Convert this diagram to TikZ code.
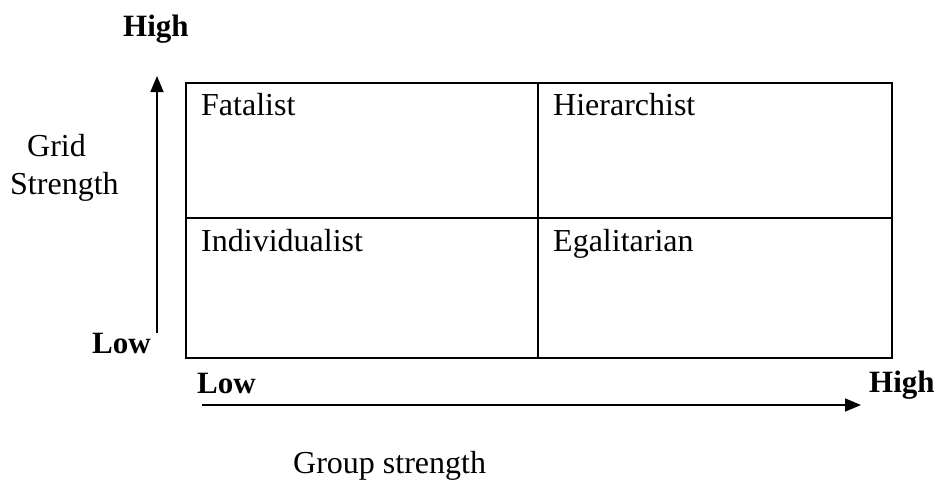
\documentclass[tikz,border=0pt]{standalone}
\usepackage{fontspec}
\setmainfont{Liberation Serif}
\usetikzlibrary{arrows.meta}
\tikzset{
  cell/.style={draw, line width=2pt, anchor=north west, inner sep=0pt, outer sep=0pt},
  txt/.style={anchor=base west, inner sep=0pt, font=\fontsize{32}{38}\selectfont},
  btxt/.style={anchor=base west, inner sep=0pt, font=\fontsize{31}{37}\selectfont\bfseries},
  axis/.style={line width=1.6pt, -{Triangle[length=16pt,width=13pt]}}
}
\begin{document}
\begin{tikzpicture}[x=1pt,y=-1pt]
\useasboundingbox (0,0) rectangle (939,480);
% grid cells
\node[cell, minimum width=352pt, minimum height=135pt] (tl) at (186,83) {};
\node[cell, minimum width=354pt, minimum height=135pt] (tr) at (538,83) {};
\node[cell, minimum width=352pt, minimum height=140pt] (bl) at (186,218) {};
\node[cell, minimum width=354pt, minimum height=140pt] (br) at (538,218) {};
% cell labels
\node[txt] (fat) at (201,115) {Fatalist};
\node[txt] (hie) at (553,115) {Hierarchist};
\node[txt] (ind) at (201,251) {Individualist};
\node[txt] (ega) at (553,251) {Egalitarian};
% axes
\coordinate (vs) at (157,333);
\coordinate (ve) at (157,76);
\coordinate (hs) at (202,405);
\coordinate (he) at (861,405);
\draw[axis] (vs) -- (ve);
\draw[axis] (hs) -- (he);
% axis labels
\node[btxt] (hightop) at (123,36) {High};
\node[txt] (grid) at (27,156) {Grid};
\node[txt] (strength) at (10,194) {Strength};
\node[btxt] (lowleft) at (92,353) {Low};
\node[btxt] (lowbot) at (197,393) {Low};
\node[btxt] (highright) at (869,392) {High};
\node[txt] (group) at (293,473) {Group strength};
\end{tikzpicture}
\end{document}
